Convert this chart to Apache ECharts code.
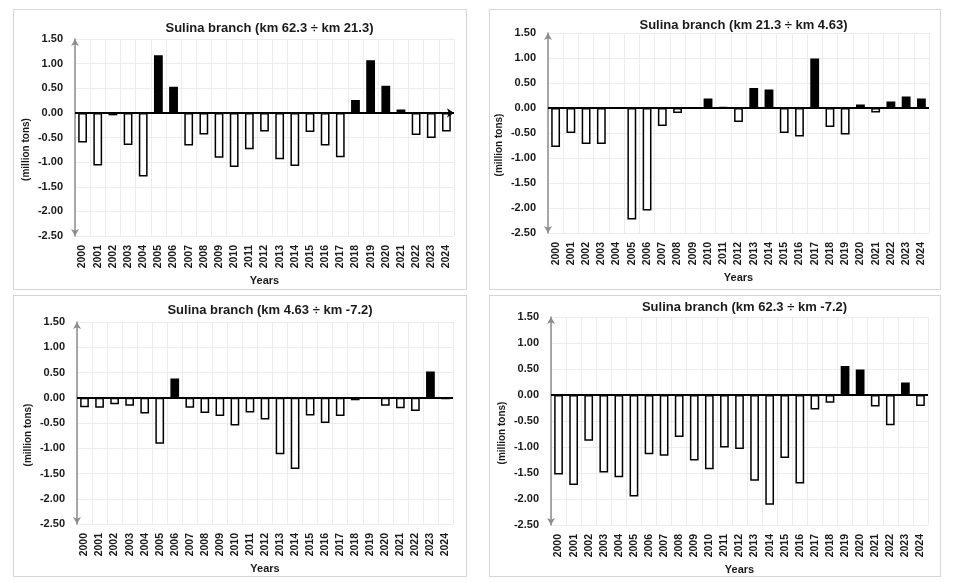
<!DOCTYPE html>
<html>
<head>
<meta charset="utf-8">
<script src="https://cdn.jsdelivr.net/npm/echarts@6/dist/echarts.min.js"></script>
<style>
  html, body { margin: 0; padding: 0; background: #fff; }
  body { width: 958px; height: 582px; position: relative; overflow: hidden; }
  .panel { position: absolute; border: 1px solid #d6d6d6; box-sizing: border-box; }
</style>
</head>
<body>
<div id="p1" class="panel" style="left:13px;top:9px;width:454px;height:281px"></div>
<div id="p2" class="panel" style="left:489px;top:9px;width:452px;height:281px"></div>
<div id="p3" class="panel" style="left:13px;top:295px;width:454px;height:282px"></div>
<div id="p4" class="panel" style="left:489px;top:295px;width:452px;height:282px"></div>
<script>
// categories
const years = ['2000', '2001', '2002', '2003', '2004', '2005', '2006', '2007', '2008', '2009',
  '2010', '2011', '2012', '2013', '2014', '2015', '2016', '2017', '2018', '2019',
  '2020', '2021', '2022', '2023', '2024']

// series values (million tons)
const km623to213 = [-0.60, -1.07, -0.05, -0.65, -1.29, 1.17, 0.53, -0.66, -0.44, -0.91,
  -1.10, -0.74, -0.38, -0.94, -1.08, -0.39, -0.66, -0.90, 0.26, 1.07,
  0.55, 0.07, -0.45, -0.51, -0.38]
const km213to463 = [-0.78, -0.50, -0.72, -0.72, -0.01, -2.23, -2.05, -0.36, -0.10, -0.01,
  0.19, 0.02, -0.28, 0.40, 0.37, -0.50, -0.57, 0.99, -0.38, -0.53,
  0.07, -0.09, 0.13, 0.23, 0.19]
const km463to72 = [-0.19, -0.20, -0.13, -0.16, -0.31, -0.91, 0.38, -0.20, -0.30, -0.36,
  -0.55, -0.29, -0.43, -1.12, -1.41, -0.35, -0.50, -0.36, -0.05, -0.01,
  -0.16, -0.21, -0.26, 0.52, -0.03]
const km623to72 = [-1.53, -1.73, -0.88, -1.49, -1.58, -1.95, -1.14, -1.17, -0.81, -1.26,
  -1.43, -1.01, -1.04, -1.65, -2.11, -1.21, -1.70, -0.28, -0.15, 0.56,
  0.49, -0.22, -0.58, 0.24, -0.21]

const titles = [
  'Sulina branch (km 62.3 ÷ km 21.3)',
  'Sulina branch (km 21.3 ÷ km 4.63)',
  'Sulina branch (km 4.63 ÷ km -7.2)',
  'Sulina branch (km 62.3 ÷ km -7.2)'
]

const font = 'Liberation Sans, Arial, sans-serif'

function drawPanel (id, title, values, grid, titleTop, zeroArrow) {
  let myChart = echarts.init(document.getElementById(id))
  let option = {
    animation: false,
    title: {
      text: title,
      left: grid.left + (grid.width / 2),
      textAlign: 'center',
      top: titleTop,
      textStyle: { fontFamily: font, fontSize: 13, fontWeight: 'bold', color: '#1a1a1a' }
    },
    grid: {
      left: grid.left,
      right: grid.right,
      top: grid.top,
      bottom: grid.bottom,
      outerBoundsMode: 'none'
    },
    xAxis: {
      type: 'category',
      data: years,
      name: 'Years',
      nameLocation: 'middle',
      nameGap: 39,
      nameMoveOverlap: false,
      nameTextStyle: { fontFamily: font, fontSize: 11, fontWeight: 'bold', color: '#1a1a1a' },
      axisLine: { onZero: false, show: false },
      axisTick: { show: false },
      axisLabel: {
        rotate: 90,
        margin: 9,
        interval: 0,
        fontFamily: font,
        fontSize: 10.5,
        fontWeight: 'bold',
        color: '#1a1a1a'
      },
      splitLine: { show: true, lineStyle: { color: '#ececec', width: 1 } }
    },
    yAxis: {
      type: 'value',
      min: -2.5,
      max: 1.5,
      interval: 0.5,
      name: '(million tons)',
      nameLocation: 'middle',
      nameGap: 44,
      nameMoveOverlap: false,
      nameTextStyle: {
        fontFamily: font,
        fontSize: 10,
        fontWeight: 'bold',
        color: '#1a1a1a',
        padding: [0, 24, 0, 0]
      },
      axisLine: {
        show: true,
        symbol: ['arrow', 'arrow'],
        symbolSize: [6, 7],
        lineStyle: { color: '#8c8c8c', width: 1.5 }
      },
      axisTick: { show: false },
      axisLabel: {
        margin: 12,
        formatter: v => v.toFixed(2),
        fontFamily: font,
        fontSize: 11,
        fontWeight: 'bold',
        color: '#1a1a1a'
      },
      splitLine: { show: true, lineStyle: { color: '#ececec', width: 1 } }
    },
    series: [{
      type: 'bar',
      data: values,
      barWidth: '58%',
      itemStyle: {
        color: p => (p.value >= 0 ? '#000' : '#fff'),
        borderColor: '#000',
        borderWidth: 1.5
      },
      markLine: {
        silent: true,
        symbol: zeroArrow ? ['none', 'arrow'] : ['none', 'none'],
        symbolSize: 7,
        label: { show: false },
        lineStyle: { color: '#000', width: 2, type: 'solid' },
        data: [{ yAxis: 0 }]
      }
    }]
  }
  myChart.setOption(option)
}

drawPanel('p1', titles[0], km623to213, { left: 61, right: 12, top: 29, bottom: 53, width: 379 }, 7, true)
drawPanel('p2', titles[1], km213to463, { left: 58, right: 11, top: 23, bottom: 56, width: 381 }, 4, false)
drawPanel('p3', titles[2], km463to72, { left: 63, right: 13, top: 26, bottom: 52, width: 376 }, 3, false)
drawPanel('p4', titles[3], km623to72, { left: 61, right: 12, top: 21, bottom: 51, width: 377 }, 0, false)
</script>
</body>
</html>
